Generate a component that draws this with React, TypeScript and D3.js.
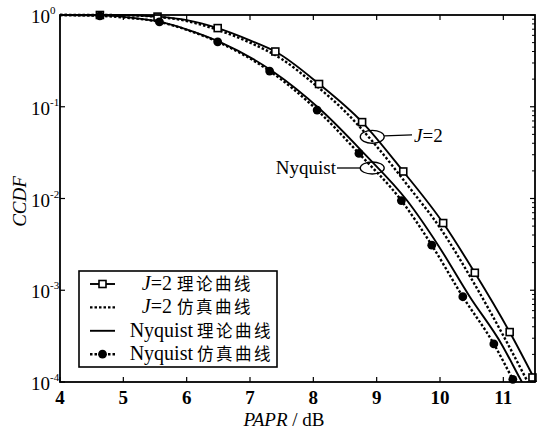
import * as d3 from "d3";

// J=2 theory (solid line, square markers)
const j2TheoryX = [4, 4.63, 5.0, 5.54, 6.0, 6.49, 7.0, 7.4, 8.09, 8.77, 9.42, 10.05, 10.55, 11.1, 11.55];
const j2TheoryY = [1, 1, 1, 0.96, 0.88, 0.72, 0.53, 0.4, 0.177, 0.068, 0.0197, 0.0054, 0.00155, 0.00035, 0.00009];
const j2MarkX = [4.63, 5.54, 6.49, 7.4, 8.09, 8.77, 9.42, 10.05, 10.55, 11.1, 11.46];
const j2MarkY = [1, 0.96, 0.72, 0.4, 0.177, 0.068, 0.0197, 0.0054, 0.00155, 0.00035, 0.000112];

// J=2 simulation (dotted)
const j2SimX = [4, 4.6, 5.0, 5.5, 6.0, 6.5, 7.0, 7.5, 8.0, 8.5, 9.0, 9.5, 10.0, 10.5, 11.0, 11.42];
const j2SimY = [1, 1, 0.995, 0.96, 0.86, 0.684, 0.5, 0.331, 0.18, 0.089, 0.037, 0.0136, 0.0048, 0.00132, 0.00032, 0.00009];

// Nyquist theory (solid)
const nyqTheoryX = [4, 4.65, 5.0, 5.59, 6.02, 6.52, 7.35, 8.12, 8.8, 9.48, 9.97, 10.47, 10.97, 11.27, 11.33];
const nyqTheoryY = [1, 0.99, 0.955, 0.84, 0.69, 0.51, 0.245, 0.092, 0.031, 0.0095, 0.0031, 0.00085, 0.00026, 0.000107, 0.00009];

// Nyquist simulation (dotted, filled circles)
const nyqSimX = [4, 4.63, 5.0, 5.57, 6.0, 6.49, 7.31, 8.06, 8.72, 9.39, 9.87, 10.36, 10.85, 11.15, 11.21];
const nyqSimY = [1, 0.98, 0.94, 0.84, 0.69, 0.51, 0.245, 0.092, 0.031, 0.0095, 0.0031, 0.00085, 0.00026, 0.000107, 0.00009];
const nyqMarkX = [4.63, 5.57, 6.49, 7.31, 8.06, 8.72, 9.39, 9.87, 10.36, 10.85, 11.15];
const nyqMarkY = [0.98, 0.84, 0.51, 0.245, 0.092, 0.031, 0.0095, 0.0031, 0.00085, 0.00026, 0.000107];

const xTicks = [4, 5, 6, 7, 8, 9, 10, 11];
const yTicks = [1, 0.1, 0.01, 0.001, 0.0001];
const yTickExp = ["0", "-1", "-2", "-3", "-4"];

const legendItems = [
  { name: "J=2", label: "理论曲线", dash: "none", marker: "square" },
  { name: "J=2", label: "仿真曲线", dash: "2.5,2", marker: "none" },
  { name: "Nyquist", label: "理论曲线", dash: "none", marker: "none" },
  { name: "Nyquist", label: "仿真曲线", dash: "2.5,2", marker: "circle" },
];

const W = 537;
const H = 439;
const L = 60, R = 535, T = 15, B = 382;
const FONT = "'Liberation Serif', 'Times New Roman', serif";
const CJK_ONLY = "'Noto Sans CJK SC', sans-serif";

export default function App() {
  const x = d3.scaleLinear().domain([4, 11.5]).range([L, R]);
  const y = d3.scaleLog().domain([1e-4, 1]).range([B, T]);

  const line = (xs: number[], ys: number[]) =>
    d3
      .line<number>()
      .x((_, i) => x(xs[i]))
      .y((_, i) => y(ys[i]))
      .curve(d3.curveMonotoneX)(xs) as string;

  const minor: number[] = [];
  for (let e = -4; e < 0; e++) {
    for (let k = 2; k <= 9; k++) minor.push(k * Math.pow(10, e));
  }

  const sq = 7;

  return (
    <svg
      width={W}
      height={H}
      style={{ position: "absolute", left: 0, top: 0, background: "#fff" }}
    >
      <defs>
        <clipPath id="plotClip">
          <rect x={L} y={T - 2} width={R - L + 2} height={B - T + 2} />
        </clipPath>
      </defs>
      <rect x={0} y={0} width={W} height={H} fill="#fff" />

      {/* curves */}
      <g clipPath="url(#plotClip)" fill="none" stroke="#000">
        <path d={line(j2TheoryX, j2TheoryY)} strokeWidth={1.9} />
        <path d={line(j2SimX, j2SimY)} strokeWidth={2.4} strokeDasharray="2.5,2" />
        <path d={line(nyqTheoryX, nyqTheoryY)} strokeWidth={1.9} />
        <path d={line(nyqSimX, nyqSimY)} strokeWidth={2.4} strokeDasharray="2.5,2" />
      </g>

      {/* markers */}
      {j2MarkX.map((v, i) => (
        <rect
          key={"s" + i}
          x={x(v) - sq / 2}
          y={y(j2MarkY[i]) - sq / 2}
          width={sq}
          height={sq}
          fill="#fff"
          stroke="#000"
          strokeWidth={1.6}
        />
      ))}
      {nyqMarkX.map((v, i) => (
        <circle key={"c" + i} cx={x(v)} cy={y(nyqMarkY[i])} r={4.4} fill="#000" />
      ))}

      {/* frame */}
      <rect x={L} y={T} width={R - L} height={B - T} fill="none" stroke="#000" strokeWidth={1.8} />

      {/* x ticks */}
      {xTicks.map((t) => (
        <g key={"xt" + t}>
          <line x1={x(t)} x2={x(t)} y1={B} y2={B - 5} stroke="#000" strokeWidth={1.2} />
          <line x1={x(t)} x2={x(t)} y1={T} y2={T + 5} stroke="#000" strokeWidth={1.2} />
          <text
            x={x(t)}
            y={404}
            textAnchor="middle"
            fontFamily={FONT}
            fontSize={19}
            fontWeight="bold"
          >
            {t}
          </text>
        </g>
      ))}

      {/* y ticks */}
      {yTicks.map((t, i) => (
        <g key={"yt" + t}>
          <line x1={L} x2={L + 5} y1={y(t)} y2={y(t)} stroke="#000" strokeWidth={1.2} />
          <line x1={R} x2={R - 5} y1={y(t)} y2={y(t)} stroke="#000" strokeWidth={1.2} />
          <text x={50} y={y(t) + 8} textAnchor="end" fontFamily={FONT} fontSize={19}>
            10
          </text>
          <text x={50} y={y(t) - 1} fontFamily={FONT} fontSize={11}>
            {yTickExp[i]}
          </text>
        </g>
      ))}
      {minor.map((t, i) => (
        <line
          key={"m" + i}
          x1={R}
          x2={R - 3}
          y1={y(t)}
          y2={y(t)}
          stroke="#000"
          strokeWidth={1}
        />
      ))}

      {/* axis titles */}
      <text
        transform={`translate(26, ${(T + B) / 2 + 3}) rotate(-90)`}
        textAnchor="middle"
        fontFamily={FONT}
        fontSize={19}
        fontStyle="italic"
      >
        CCDF
      </text>
      <text x={284} y={426} textAnchor="middle" fontFamily={FONT} fontSize={19}>
        <tspan fontStyle="italic">PAPR</tspan>
        <tspan> / dB</tspan>
      </text>

      {/* annotations */}
      <ellipse cx={x(8.93)} cy={y(0.047)} rx={12} ry={6.5} fill="none" stroke="#000" strokeWidth={1.3} />
      <line x1={x(8.93) + 12} y1={y(0.047) - 1} x2={412} y2={y(0.047) - 2} stroke="#000" strokeWidth={1.3} />
      <text x={414} y={y(0.047) + 5} fontFamily={FONT} fontSize={19}>
        <tspan fontStyle="italic">J</tspan>=2
      </text>
      <ellipse cx={x(8.93)} cy={y(0.0215)} rx={12} ry={6} fill="none" stroke="#000" strokeWidth={1.3} />
      <line x1={337} y1={y(0.0215)} x2={x(8.93) - 12} y2={y(0.0215)} stroke="#000" strokeWidth={1.3} />
      <text x={336} y={y(0.0215) + 6} textAnchor="end" fontFamily={FONT} fontSize={19}>
        Nyquist
      </text>

      {/* legend */}
      <rect x={79} y={271} width={198} height={96} fill="#fff" stroke="#000" strokeWidth={1.6} />
      {legendItems.map((d, i) => {
        const cy = 284 + i * 23.4;
        const isJ = d.name === "J=2";
        return (
          <g key={"lg" + i}>
            <line
              x1={90}
              x2={115}
              y1={cy}
              y2={cy}
              stroke="#000"
              strokeWidth={d.dash === "none" ? 1.9 : 2.4}
              strokeDasharray={d.dash === "none" ? undefined : d.dash}
            />
            {d.marker === "square" && (
              <rect x={102.5 - 3.5} y={cy - 3.5} width={7} height={7} fill="#fff" stroke="#000" strokeWidth={1.6} />
            )}
            {d.marker === "circle" && <circle cx={102.5} cy={cy} r={4.4} fill="#000" />}
            <text x={isJ ? 172 : 193} y={cy + 6} textAnchor="end" fontFamily={FONT} fontSize={20}>
              {isJ ? (
                <>
                  <tspan fontStyle="italic">J</tspan>=2
                </>
              ) : (
                "Nyquist"
              )}
            </text>
            <text
              x={isJ ? 177 : 197}
              y={cy + 6}
              fontFamily={CJK_ONLY}
              fontSize={16.5}
              letterSpacing={2.5}
            >
              {d.label}
            </text>
          </g>
        );
      })}
    </svg>
  );
}
